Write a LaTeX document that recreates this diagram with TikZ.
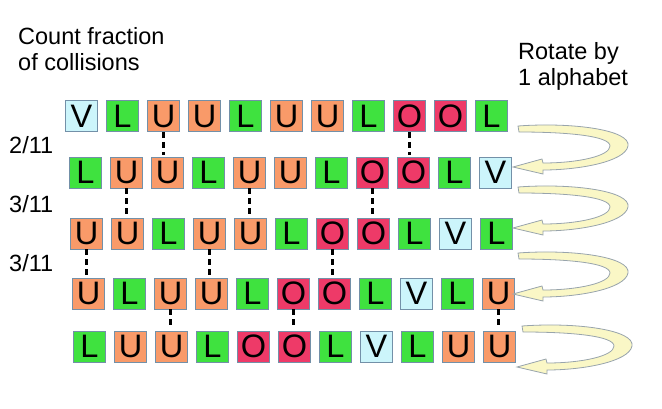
\documentclass[tikz,border=0pt]{standalone}
\usepackage{fontspec}
\setmainfont{Liberation Sans}
\usetikzlibrary{positioning}

\definecolor{vcol}{HTML}{CCF5FB}
\definecolor{lcol}{HTML}{3FE23F}
\definecolor{ucol}{HTML}{F99A69}
\definecolor{ocol}{HTML}{EE3A68}
\definecolor{edge}{HTML}{7390A8}
\definecolor{cream}{HTML}{FAF7C6}
\definecolor{rim}{HTML}{98A4AC}

\tikzset{turnarrow/.pic={
  \draw[draw=rim, fill=cream, line width=0.8pt]
    (0,0) .. controls (55,-4) and (113,4) .. (110,20)
    .. controls (107,36) and (60,44) .. (25,44)
    -- (25,48) -- (-5,41) -- (24,33) -- (25,37)
    .. controls (60,37) and (92,30) .. (92,20)
    .. controls (92,10) and (50,6) .. (1,6) -- cycle;
}}

\begin{document}
\begin{tikzpicture}[x=1pt, y=-1pt, node distance=8.2pt,
  box/.style = {draw=edge, line width=0.8pt, minimum width=32pt, minimum height=31pt, inner sep=0pt, font=\fontsize{32.5}{38}\selectfont},
  vbox/.style = {box, fill=vcol},
  lbox/.style = {box, fill=lcol},
  ubox/.style = {box, fill=ucol},
  obox/.style = {box, fill=ocol},
  coll/.style = {line width=3.5pt, dash pattern=on 6pt off 4pt, shorten >=2pt},
  frac/.style = {anchor=west, inner sep=0pt, font=\fontsize{23.5}{26}\selectfont},
  head/.style = {anchor=north west, inner sep=0pt, align=left, font=\fontsize{23.5}{26}\selectfont}]
\useasboundingbox (0,0) rectangle (662,408);

\node[head] (count) at (18,27) {Count fraction\\of collisions};
\node[head] (rotate) at (518,42) {Rotate by\\1 alphabet};

% row a
\node[vbox] (a1) at (81.5,116) {V};
\node[lbox] (a2) [right=of a1] {L};
\node[ubox] (a3) [right=of a2] {U};
\node[ubox] (a4) [right=of a3] {U};
\node[lbox] (a5) [right=of a4] {L};
\node[ubox] (a6) [right=of a5] {U};
\node[ubox] (a7) [right=of a6] {U};
\node[lbox] (a8) [right=of a7] {L};
\node[obox] (a9) [right=of a8] {O};
\node[obox] (a10) [right=of a9] {O};
\node[lbox] (a11) [right=of a10] {L};

% row b
\node[lbox] (b1) at (85.5,172.5) {L};
\node[ubox] (b2) [right=of b1] {U};
\node[ubox] (b3) [right=of b2] {U};
\node[lbox] (b4) [right=of b3] {L};
\node[ubox] (b5) [right=of b4] {U};
\node[ubox] (b6) [right=of b5] {U};
\node[lbox] (b7) [right=of b6] {L};
\node[obox] (b8) [right=of b7] {O};
\node[obox] (b9) [right=of b8] {O};
\node[lbox] (b10) [right=of b9] {L};
\node[vbox] (b11) [right=of b10] {V};

% row c
\node[ubox] (c1) at (86.5,233.5) {U};
\node[ubox] (c2) [right=of c1] {U};
\node[lbox] (c3) [right=of c2] {L};
\node[ubox] (c4) [right=of c3] {U};
\node[ubox] (c5) [right=of c4] {U};
\node[lbox] (c6) [right=of c5] {L};
\node[obox] (c7) [right=of c6] {O};
\node[obox] (c8) [right=of c7] {O};
\node[lbox] (c9) [right=of c8] {L};
\node[vbox] (c10) [right=of c9] {V};
\node[lbox] (c11) [right=of c10] {L};

% row d
\node[ubox] (d1) at (88.5,293.5) {U};
\node[lbox] (d2) [right=of d1] {L};
\node[ubox] (d3) [right=of d2] {U};
\node[ubox] (d4) [right=of d3] {U};
\node[lbox] (d5) [right=of d4] {L};
\node[obox] (d6) [right=of d5] {O};
\node[obox] (d7) [right=of d6] {O};
\node[lbox] (d8) [right=of d7] {L};
\node[vbox] (d9) [right=of d8] {V};
\node[lbox] (d10) [right=of d9] {L};
\node[ubox] (d11) [right=of d10] {U};

% row e
\node[lbox] (e1) at (89.5,346.5) {L};
\node[ubox] (e2) [right=of e1] {U};
\node[ubox] (e3) [right=of e2] {U};
\node[lbox] (e4) [right=of e3] {L};
\node[obox] (e5) [right=of e4] {O};
\node[obox] (e6) [right=of e5] {O};
\node[lbox] (e7) [right=of e6] {L};
\node[vbox] (e8) [right=of e7] {V};
\node[lbox] (e9) [right=of e8] {L};
\node[ubox] (e10) [right=of e9] {U};
\node[ubox] (e11) [right=of e10] {U};

% collisions
\node[frac] (f1) at (9,145) {2/11};
\node[frac] (f2) at (9,204) {3/11};
\node[frac] (f3) at (9,263) {3/11};

\draw[coll] (a3) -- (a3 |- b3.north);
\draw[coll] (a9) -- (a9 |- b9.north);
\draw[coll] (b2) -- (b2 |- c2.north);
\draw[coll] (b5) -- (b5 |- c5.north);
\draw[coll] (b8) -- (b8 |- c8.north);
\draw[coll] (c1) -- (c1 |- d1.north);
\draw[coll] (c4) -- (c4 |- d4.north);
\draw[coll] (c7) -- (c7 |- d7.north);
\draw[coll] (d3) -- (d3 |- e3.north);
\draw[coll] (d6) -- (d6 |- e6.north);
\draw[coll] (d11) -- (d11 |- e11.north);

% rotations
\pic at (518,126) {turnarrow};
\pic at (518,187) {turnarrow};
\pic at (518,253) {turnarrow};
\pic at (522,326) {turnarrow};
\end{tikzpicture}
\end{document}
